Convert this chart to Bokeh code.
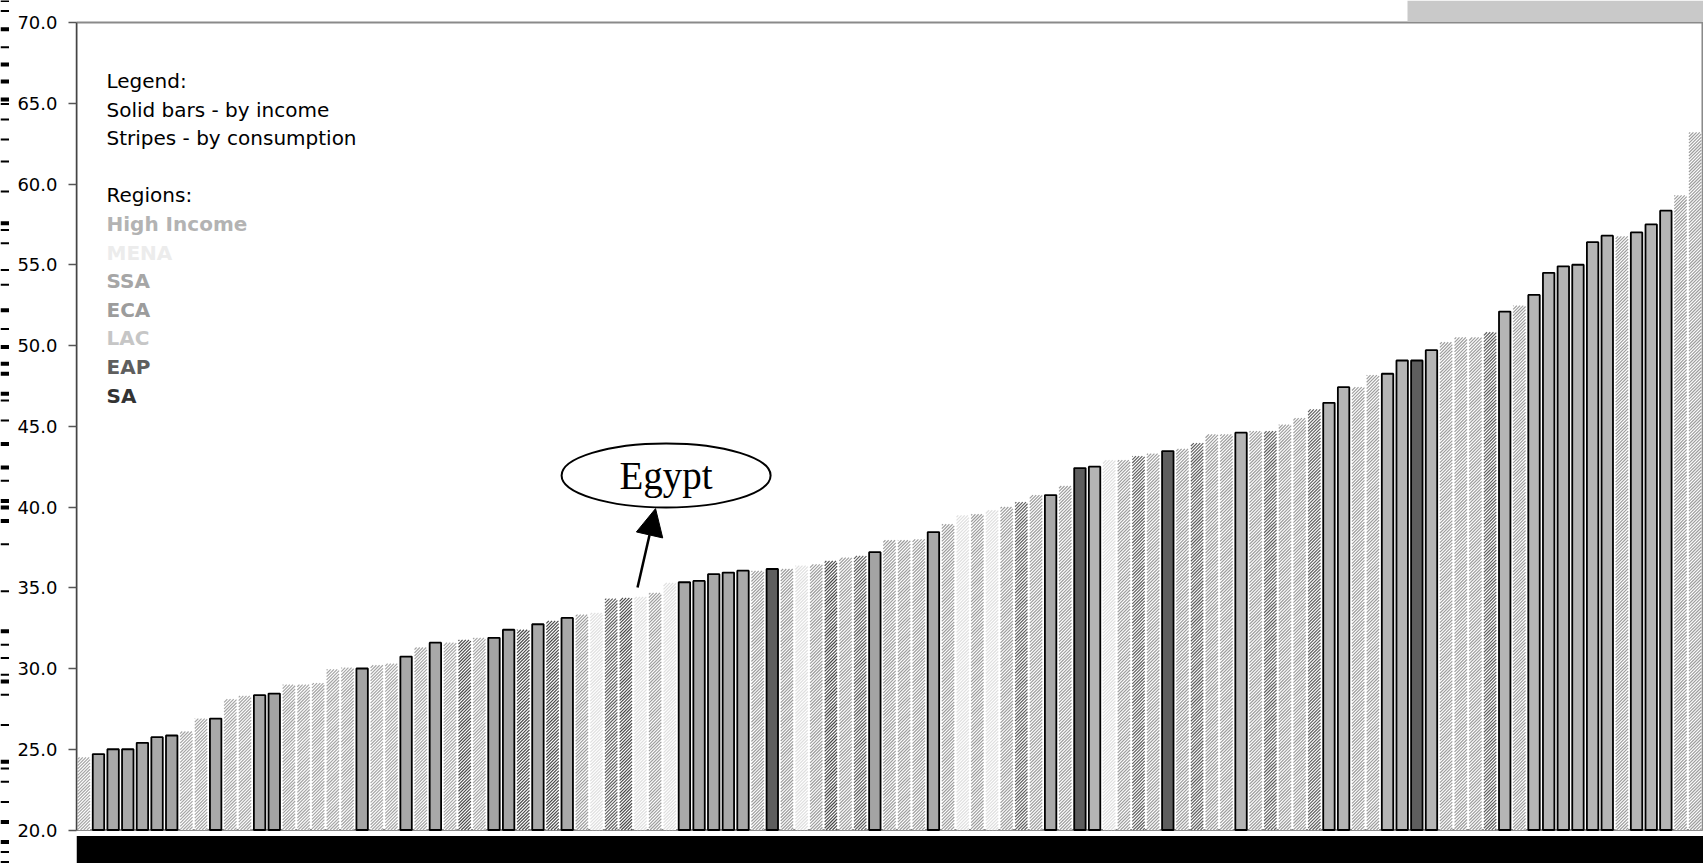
import math
from bokeh.plotting import figure
from bokeh.layouts import row
from bokeh.models import (Range1d, FixedTicker, NumeralTickFormatter,
                          Arrow, NormalHead, ColumnDataSource)
from bokeh.core.properties import value
from bokeh.embed import file_html
from bokeh.resources import INLINE

# Gini index per country, sorted ascending
gini = [24.5, 24.7, 25.0, 25.0, 25.4, 25.75, 25.85, 26.1, 26.9, 26.9,
        28.1, 28.3, 28.35, 28.45, 29.0, 29.0, 29.1, 29.95, 30.05, 30.0,
        30.2, 30.3, 30.74, 31.3, 31.6, 31.6, 31.77, 31.9, 31.9, 32.4,
        32.4, 32.74, 32.95, 33.13, 33.34, 33.45, 34.33, 34.37, 34.43, 34.68,
        35.3, 35.34, 35.42, 35.84, 35.94, 36.06, 36.04, 36.16, 36.16, 36.37,
        36.45, 36.66, 36.87, 36.97, 37.2, 37.94, 37.94, 38.0, 38.45, 38.93,
        39.48, 39.55, 39.8, 40.0, 40.3, 40.74, 40.74, 41.3, 42.41, 42.5,
        42.9, 42.9, 43.15, 43.3, 43.46, 43.6, 43.96, 44.5, 44.5, 44.6,
        44.7, 44.7, 45.1, 45.5, 46.04, 46.45, 47.42, 47.42, 48.16, 48.25,
        49.07, 49.07, 49.71, 50.2, 50.5, 50.5, 50.82, 52.1, 52.47, 53.13,
        54.5, 54.9, 55.0, 56.4, 56.8, 56.76, 57.0, 57.5, 58.35, 59.3,
        63.2]

# "I" = measured by income (solid bar), "C" = by consumption (striped bar)
basis = ["C", "I", "I", "I", "I", "I", "I", "C", "C", "I",
         "C", "C", "I", "I", "C", "C", "C", "C", "C", "I",
         "C", "C", "I", "C", "I", "C", "C", "C", "I", "I",
         "C", "I", "C", "I", "C", "C", "C", "C", "C", "C",
         "C", "I", "I", "I", "I", "I", "C", "I", "C", "C",
         "C", "C", "C", "C", "I", "C", "C", "C", "I", "C",
         "C", "C", "C", "C", "C", "C", "I", "C", "I", "I",
         "C", "C", "C", "C", "I", "C", "C", "C", "C", "I",
         "C", "C", "C", "C", "C", "I", "I", "C", "C", "I",
         "I", "I", "I", "C", "C", "C", "C", "I", "C", "I",
         "I", "I", "I", "I", "I", "C", "I", "I", "I", "C",
         "C"]

region = ["ECA", "HI", "HI", "HI", "HI", "HI", "ECA", "ECA", "ECA", "HI",
          "ECA", "ECA", "HI", "ECA", "ECA", "ECA", "ECA", "ECA", "ECA", "ECA",
          "ECA", "ECA", "HI", "ECA", "HI", "ECA", "SA", "ECA", "ECA", "ECA",
          "SA", "HI", "SA", "HI", "SSA", "MENA", "EAP", "SA", "MENA", "SSA",
          "MENA", "HI", "HI", "HI", "HI", "HI", "SSA", "EAP", "SSA", "MENA",
          "SSA", "SA", "SSA", "EAP", "ECA", "SSA", "SSA", "SSA", "HI", "SSA",
          "MENA", "SSA", "MENA", "SSA", "EAP", "SSA", "HI", "SSA", "EAP", "LAC",
          "MENA", "SSA", "EAP", "SSA", "EAP", "SSA", "EAP", "SSA", "SSA", "LAC",
          "SSA", "EAP", "SSA", "SSA", "EAP", "LAC", "LAC", "SSA", "SSA", "LAC",
          "LAC", "EAP", "LAC", "SSA", "SSA", "SSA", "EAP", "LAC", "SSA", "LAC",
          "LAC", "LAC", "LAC", "LAC", "LAC", "SSA", "LAC", "LAC", "LAC", "SSA",
          "SSA"]

region_codes = ["HI", "MENA", "SSA", "ECA", "LAC", "EAP", "SA"]
region_names = ["High Income", "MENA", "SSA", "ECA", "LAC", "EAP", "SA"]
shade = {"HI": "#a9a9a9", "MENA": "#dedede", "SSA": "#9c9c9c", "ECA": "#a4a4a4",
         "LAC": "#b5b5b5", "EAP": "#5e5e5e", "SA": "#474747"}
legend_text_color = {"HI": "#b3b3b3", "MENA": "#ececec", "SSA": "#a6a6a6", "ECA": "#9c9c9c",
                     "LAC": "#c6c6c6", "EAP": "#5e5e5e", "SA": "#333333"}

highlight_country = "Egypt"
highlight_index = 38

y_ticks = [20, 25, 30, 35, 40, 45, 50, 55, 60, 65, 70]

# ---- canvas geometry -------------------------------------------------------
W, H = 1703, 863
STRIP = 10                     # narrow margin strip with printer marks
LEFT = 76                      # page column where the plot frame starts
PX_PER_Y = 16.15               # vertical scale
Y_TOP_PX = 22                  # pixel row of y = 70
n = len(gini)
x0 = -0.5
x1 = n - 0.5 + 0.07
px_per_x = (W - LEFT) / (x1 - x0)
y_hi = 70 + Y_TOP_PX / PX_PER_Y
y_lo = 70 - (H - Y_TOP_PX) / PX_PER_Y

BAR_W_SOLID = 0.78
BAR_W_STRIPE = 0.85
STRIPE_PERIOD = 3.2            # horizontal spacing of the hatch lines, px


def yd(py):
    """page row -> data y"""
    return 70 - (py - Y_TOP_PX) / PX_PER_Y


def xd(px):
    """page column -> data x"""
    return x0 + (px - LEFT) / px_per_x


def stripe_segments(i, top):
    """45-degree '/' hatch lines clipped to bar i (from y=20 up to top)."""
    xl = LEFT + (i - BAR_W_STRIPE / 2 - x0) * px_per_x
    xr = LEFT + (i + BAR_W_STRIPE / 2 - x0) * px_per_x
    hu = (top - 20) * PX_PER_Y
    segs = []
    k = math.floor((xl - hu) / STRIPE_PERIOD)
    while k * STRIPE_PERIOD < xr:
        c = k * STRIPE_PERIOD
        xa, xb = max(xl, c), min(xr, c + hu)
        if xb - xa > 0.3:
            segs.append((xd(xa), 20 + (xa - c) / PX_PER_Y,
                         xd(xb), 20 + (xb - c) / PX_PER_Y))
        k += 1
    return segs


yr = Range1d(y_lo, y_hi)

p = figure(width=W - STRIP, height=H, x_range=Range1d(x0, x1), y_range=yr,
           output_backend="svg", toolbar_location=None, x_axis_location=None,
           min_border_left=LEFT - STRIP, min_border_right=0, min_border_top=0,
           min_border_bottom=0)
p.outline_line_color = None
p.xgrid.visible = False
p.ygrid.visible = False
p.background_fill_color = "white"
p.border_fill_color = "white"

# ---- y axis ----------------------------------------------------------------
ya = p.yaxis[0]
ya.ticker = FixedTicker(ticks=y_ticks, minor_ticks=[])
ya.bounds = (20, 70)
ya.formatter = NumeralTickFormatter(format="0.0")
ya.major_label_text_font = "DejaVu Sans"
ya.major_label_text_font_size = "18px"
ya.major_label_text_color = "black"
ya.major_label_standoff = 11
ya.major_tick_in = 0
ya.major_tick_out = 8
ya.major_tick_line_color = "#555555"
ya.major_tick_line_width = 1.5
ya.axis_line_color = "#444444"
ya.axis_line_width = 1.5

# ---- printer marks along the left page margin ------------------------------
mark_rows_thick = [28.7, 64.1, 80.9, 98.9, 222.7, 309.7, 346.5, 363.2, 373.3, 393.3,
                   443.5, 466.9, 500.4, 507.1, 520.5, 630.8, 681.0, 761.3, 821.5, 841.5]
mark_rows_thin = [0.6, 10.6, 46.7, 103.6, 119.0, 139.0, 161.0, 191.0, 229.4, 242.8,
                  269.5, 284.2, 328.4, 400.0, 420.0, 480.3, 543.8, 590.7, 644.2, 657.6,
                  674.3, 694.3, 724.5, 768.0, 781.3, 801.4, 851.6, 861.6]
pm = figure(width=STRIP, height=H, x_range=Range1d(0, STRIP), y_range=yr,
            output_backend="svg", toolbar_location=None,
            x_axis_location=None, y_axis_location=None,
            min_border_left=0, min_border_right=0, min_border_top=0, min_border_bottom=0)
pm.outline_line_color = None
pm.xgrid.visible = False
pm.ygrid.visible = False
tk = [yd(v) for v in mark_rows_thick]
tn = [yd(v) for v in mark_rows_thin]
pm.segment(x0=[0] * len(tk), x1=[8.5] * len(tk), y0=tk, y1=tk, line_color="black", line_width=4)
pm.segment(x0=[0] * len(tn), x1=[8.5] * len(tn), y0=tn, y1=tn, line_color="black", line_width=2)

# ---- plot area box, top strip and bottom label band ------------------------
p.quad(left=[x0], right=[n - 0.5], bottom=[20], top=[70],
       fill_color=None, line_color="#8a8a8a", line_width=2)
p.quad(left=[xd(1407)], right=[x1], bottom=[yd(21)], top=[y_hi],
       fill_color="#c9c9c9", line_color=None)
p.quad(left=[x0], right=[x1], bottom=[y_lo], top=[yd(835.5)],
       fill_color="black", line_color=None)

# ---- bars ------------------------------------------------------------------
idx = list(range(n))
inc = [i for i in idx if basis[i] == "I"]
con = [i for i in idx if basis[i] == "C"]

# consumption-based: white bar body with diagonal hatching
src_con = ColumnDataSource(dict(x=con, top=[gini[i] for i in con]))
p.vbar(x="x", top="top", bottom=20, width=BAR_W_STRIPE, source=src_con,
       fill_color="white", line_color=None)

hx0, hy0, hx1, hy1, hc = [], [], [], [], []
for i in con:
    for (a, b, c, d) in stripe_segments(i, gini[i]):
        hx0.append(a); hy0.append(b); hx1.append(c); hy1.append(d)
        hc.append(shade[region[i]])
p.segment(x0="x0", y0="y0", x1="x1", y1="y1", line_color="c", line_width=1.15,
          source=ColumnDataSource(dict(x0=hx0, y0=hy0, x1=hx1, y1=hy1, c=hc)))

# income-based: solid bars with black outline
src_inc = ColumnDataSource(dict(x=inc, top=[gini[i] for i in inc],
                                color=[shade[region[i]] for i in inc]))
p.vbar(x="x", top="top", bottom=20, width=BAR_W_SOLID, source=src_inc,
       fill_color="color", line_color="black", line_width=1.8)

# ---- legend text -----------------------------------------------------------
LEG_X = xd(106)
CENTER0, STEP = 80.4, 28.6
info_lines = ["Legend:", "Solid bars - by income", "Stripes - by consumption", "Regions:"]
info_rows = [0, 1, 2, 4]
p.text(x=[LEG_X] * len(info_lines), y=[yd(CENTER0 + STEP * r) for r in info_rows],
       text=info_lines, text_font=value("DejaVu Sans"), text_font_size="20px",
       text_color="black", text_baseline="middle", text_align="left")
p.text(x=[LEG_X] * len(region_names),
       y=[yd(CENTER0 + STEP * (5 + k)) for k in range(len(region_names))],
       text=region_names, text_font=value("DejaVu Sans"), text_font_size="20px",
       text_font_style="bold", text_color=[legend_text_color[c] for c in region_codes],
       text_baseline="middle", text_align="left")

# ---- callout for the highlighted country -----------------------------------
hx, hy = highlight_index, gini[highlight_index]
cx, cy = hx + 1.75, hy + 7.52
p.add_layout(Arrow(end=NormalHead(size=27, fill_color="black", line_color="black"),
                   x_start=hx - 0.2, y_start=hy + 0.58, x_end=hx + 1.03, y_end=hy + 5.47,
                   line_color="black", line_width=2.5))
p.ellipse(x=[cx], y=[cy], width=209, height=64, width_units="screen", height_units="screen",
          fill_color="white", line_color="black", line_width=2)
p.text(x=[cx], y=[cy], text=[highlight_country], text_font=value("Liberation Serif"),
       text_font_size="39px", text_color="black", text_align="center",
       text_baseline="middle")

open("out.html", "w").write(file_html(row(pm, p), INLINE))
